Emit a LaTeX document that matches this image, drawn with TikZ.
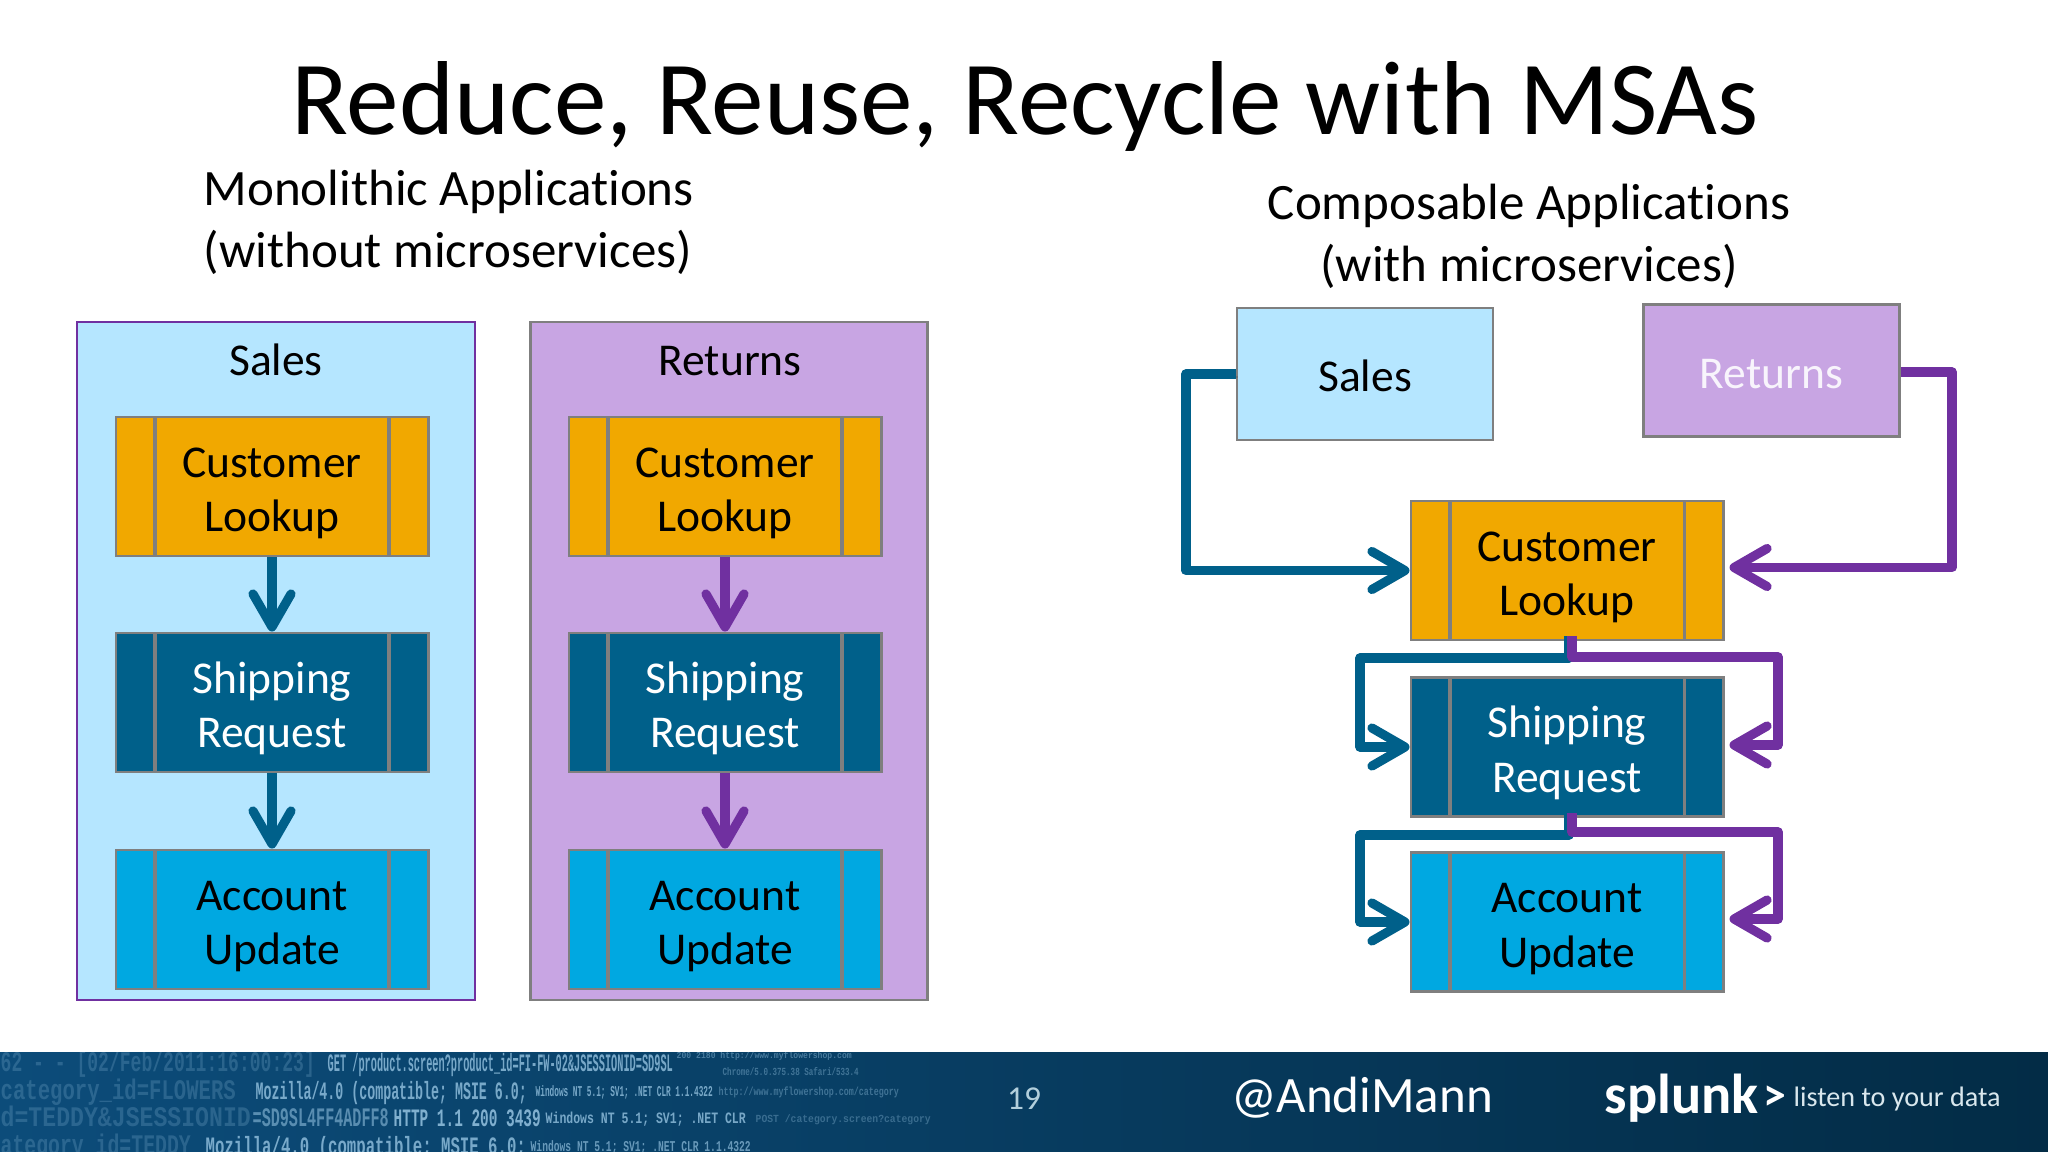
\documentclass[tikz,border=0pt]{standalone}
\usepackage{fontspec}
\setmainfont{Carlito}[Ligatures=NoCommon]
\newfontfamily\logfont{Liberation Mono}
\usetikzlibrary{arrows.meta}
\definecolor{orangebox}{HTML}{F1A800}
\definecolor{tealbox}{HTML}{00608A}
\definecolor{bluebox}{HTML}{00A8E1}
\definecolor{lightpanel}{HTML}{B5E6FF}
\definecolor{lilacpanel}{HTML}{C8A5E3}
\definecolor{purpleline}{HTML}{7030A0}
\definecolor{boxline}{HTML}{7F7F7F}
\definecolor{logtext}{HTML}{A8D4F0}
\tikzset{
  boxtext/.style={font=\fontsize{12.95}{15.6}\selectfont,align=center,inner sep=0},
  heading/.style={font=\fontsize{14.5}{17.6}\selectfont,inner sep=0},
  panel/.style={draw=boxline,line width=0.7pt,minimum width=3.98cm,minimum height=6.78cm,inner sep=0},
  tile/.style={boxtext,text height=10pt,text depth=0pt,draw=boxline,line width=0.8pt,minimum width=2.56cm,minimum height=1.32cm},
  stage/.style={boxtext,text height=25.8pt,text depth=0pt,draw=boxline,line width=0.8pt,minimum width=3.12cm,minimum height=1.39cm,
    path picture={
      \draw[boxline,line width=0.9pt]
        ([xshift=0.39cm]path picture bounding box.north west) -- ([xshift=0.39cm]path picture bounding box.south west)
        ([xshift=-0.39cm]path picture bounding box.north east) -- ([xshift=-0.39cm]path picture bounding box.south east);
    }},
  customer/.style={stage,fill=orangebox},
  shipping/.style={stage,fill=tealbox,text=white},
  account/.style={stage,fill=bluebox},
  flow/.style={line width=2.6pt,line join=round,
    -{Straight Barb[length=0.33cm,width=0.38cm,round]},
    preaction={draw=black,opacity=.12,transform canvas={shift={(0.6pt,-0.9pt)}}}},
  tealflow/.style={flow,draw=tealbox},
  purpleflow/.style={flow,draw=purpleline},
  logline/.style={anchor=west,inner sep=0,text=logtext,font=\logfont\bfseries}
}

\begin{document}
\begin{tikzpicture}[x=0.01cm,y=-0.01cm]
  \useasboundingbox (0,0) rectangle (2048,1152);

  % footer band
  \shade[left color={rgb,255:red,12;green,76;blue,122},
    middle color={rgb,255:red,5;green,86;blue,142},right color={rgb,255:red,3;green,44;blue,70}]
    (0,1052) rectangle (2048,1152);
  \begin{scope}
    \clip (0,1052) rectangle (2048,1152);
    \foreach \i/\x/\y/\w/\h/\o/\t in {
      1/0/1065/31.4/3.4/.2/{62 - - [02/Feb/2011:16:00:23]},
      2/327/1065/34.5/3.0/.7/{GET /product.screen?product\_id=FI-FW-02\&JSESSIONID=SD9SL},
      3/722/1073/13.6/1.3/.35/{Chrome/5.0.375.38 Safari/533.4},
      4/676/1056/17.5/1.1/.4/{200 2180 http://www.myflowershop.com},
      5/0/1093/23.5/3.4/.2/{category\_id=FLOWERS},
      6/255/1093/27.1/3.0/.7/{Mozilla/4.0 (compatible; MSIE 6.0;},
      7/535/1093/17.7/1.8/.7/{Windows NT 5.1; SV1; .NET CLR 1.1.4322},
      8/718/1093/18/1.4/.35/{http://www.myflowershop.com/category},
      9/0/1120/25/3.4/.2/{d=TEDDY\&JSESSIONID},
      10/252/1120/13.6/3.2/.5/{=SD9SL4FF4ADFF8},
      11/393/1120/14.7/3.0/.75/{HTTP 1.1 200 3439},
      12/545/1120/20/1.9/.7/{Windows NT 5.1; SV1; .NET CLR},
      13/755/1120/17.5/1.3/.3/{POST /category.screen?category},
      14/0/1148/19/3.4/.2/{ategory\_id=TEDDY},
      15/205/1148/32/3.0/.7/{Mozilla/4.0 (compatible; MSIE 6.0;},
      16/530/1148/22/1.8/.6/{Windows NT 5.1; SV1; .NET CLR 1.1.4322}}
      \node[logline,text opacity=\o] (log\i) at (\x,\y) {\resizebox*{\w mm}{\h mm}{\strut\t}};
  \end{scope}
  \node[inner sep=0,text=white!70!tealbox,font=\fontsize{9.5}{11}\selectfont] (page) at (1024,1099) {19};
  \node[inner sep=0,text=white,font=\fontsize{14.5}{16}\selectfont] (handle) at (1362,1098) {@AndiMann};
  \node[inner sep=0,anchor=west,text=white,font=\fontsize{16}{18}\bfseries\selectfont] (splunk) at (1604,1098) {splunk};
  \node[inner sep=0,anchor=west,text=white,font=\fontsize{13}{16}\bfseries\selectfont] (chevron) at (1763,1098) {>};
  \node[inner sep=0,anchor=west,text=white!85!tealbox,font=\fontsize{8}{9}\selectfont] (motto) at (1793,1099) {listen to your data};

  % title and headings
  \node[inner sep=0,font=\fontsize{29.9}{32}\selectfont] (title) at (1025,106) {Reduce, Reuse, Recycle with MSAs};
  \node[heading,anchor=west,align=left] (mono) at (203,222) {Monolithic Applications\\(without microservices)};
  \node[heading,align=center] (compose) at (1529,236) {Composable Applications\\(with microservices)};

  % monolithic side
  \node[panel,fill=lightpanel,draw=purpleline] (salesbox) at (276,661) {};
  \node[panel,fill=lilacpanel,minimum width=3.97cm] (returnsbox) at (729,661) {};
  \node[boxtext] (saleslabel) at (276,360) {Sales};
  \node[boxtext] (returnslabel) at (730,361) {Returns};
  \node[customer] (salescust) at (272,486.5) {Customer\\Lookup};
  \node[shipping] (salesship) at (272,702.5) {Shipping\\Request};
  \node[account] (salesacct) at (272,919.5) {Account\\Update};
  \node[customer] (retcust) at (725,486.5) {Customer\\Lookup};
  \node[shipping] (retship) at (725,702.5) {Shipping\\Request};
  \node[account] (retacct) at (725,919.5) {Account\\Update};
  \draw[tealflow] (salescust) -- (salesship);
  \draw[tealflow] (salesship) -- (salesacct);
  \draw[purpleflow] (retcust) -- (retship);
  \draw[purpleflow] (retship) -- (retacct);

  % composable side
  \node[tile,fill=lightpanel] (appsales) at (1365,374) {Sales};
  \node[tile,fill=lilacpanel,text=white!88!lilacpanel] (appreturns) at (1771.5,370.5) {Returns};
  \node[customer] (cust) at (1567,570.5) {Customer\\Lookup};
  \node[shipping] (ship) at (1567,747) {Shipping\\Request};
  \node[account] (acct) at (1567,922) {Account\\Update};
  \coordinate (salesbend) at (1186,374);
  \coordinate (retbend) at (1952,372);
  \coordinate (teal1) at (1360,658);
  \coordinate (teal2) at (1360,835);
  \coordinate (purple1) at (1778,657);
  \coordinate (purple2) at (1778,832);
  \draw[tealflow] (appsales.west) -- (salesbend) |- (cust.west);
  \draw[purpleflow] (appreturns.east |- retbend) -- (retbend) |- ([shift={(5,-3)}]cust.east);
  \draw[tealflow] ([xshift=0.02cm,yshift=0.05cm]cust.south) |- (teal1) |- (ship.west);
  \draw[purpleflow] ([xshift=0.05cm,yshift=0.05cm]cust.south) |- (purple1) |- ([shift={(5,-2)}]ship.east);
  \draw[tealflow] ([xshift=0.02cm,yshift=0.05cm]ship.south) |- (teal2) |- (acct.west);
  \draw[purpleflow] ([xshift=0.05cm,yshift=0.05cm]ship.south) |- (purple2) |- ([shift={(5,-3)}]acct.east);
\end{tikzpicture}
\end{document}
